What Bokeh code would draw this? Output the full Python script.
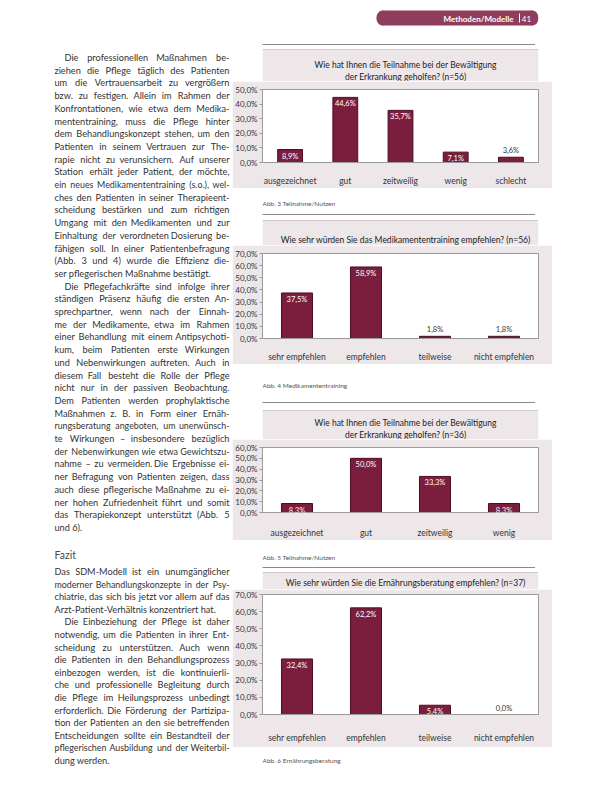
from bokeh.plotting import figure
from bokeh.models import Range1d, ColumnDataSource, LabelSet, CustomJSTickFormatter, FixedTicker, FactorRange
from bokeh.layouts import row, column
from bokeh.embed import file_html
from bokeh.resources import INLINE
from bokeh.core.properties import value

FONT = "Lato"
BOX = "#eee7ea"
BAR = "#7b1d3d"
BAR_EDGE = "#4d0e22"
TXT = "#333333"

# ---------------- data ----------------
header_section = "Methoden/Modelle"
header_page = "41"

c1_title = ["Wie hat Ihnen die Teilnahme bei der Bewältigung", "der Erkrankung geholfen? (n=56)"]
c1_cats = ["ausgezeichnet", "gut", "zeitweilig", "wenig", "schlecht"]
c1_vals = [8.9, 44.6, 35.7, 7.1, 3.6]
c1_ticks = [0, 10, 20, 30, 40, 50]
c1_caption = "Abb. 3 Teilnahme/Nutzen"

c2_title = ["Wie sehr würden Sie das Medikamententraining empfehlen? (n=56)"]
c2_cats = ["sehr empfehlen", "empfehlen", "teilweise", "nicht empfehlen"]
c2_vals = [37.5, 58.9, 1.8, 1.8]
c2_ticks = [0, 10, 20, 30, 40, 50, 60, 70]
c2_caption = "Abb. 4 Medikamententraining"

c3_title = ["Wie hat Ihnen die Teilnahme bei der Bewältigung", "der Erkrankung geholfen? (n=36)"]
c3_cats = ["ausgezeichnet", "gut", "zeitweilig", "wenig"]
c3_vals = [8.3, 50.0, 33.3, 8.3]
c3_ticks = [0, 10, 20, 30, 40, 50, 60]
c3_caption = "Abb. 5 Teilnahme/Nutzen"

c4_title = ["Wie sehr würden Sie die Ernährungsberatung empfehlen? (n=37)"]
c4_cats = ["sehr empfehlen", "empfehlen", "teilweise", "nicht empfehlen"]
c4_vals = [32.4, 62.2, 5.4, 0.0]
c4_ticks = [0, 10, 20, 30, 40, 50, 60, 70]
c4_caption = "Abb. 6 Ernährungsberatung"

text_a = [
    "Die professionellen Maßnahmen be-",
    "ziehen die Pflege täglich des Patienten",
    "um die Vertrauensarbeit zu vergrößern",
    "bzw. zu festigen. Allein im Rahmen der",
    "Konfrontationen, wie etwa dem Medika-",
    "mententraining, muss die Pflege hinter",
    "dem Behandlungskonzept stehen, um den",
    "Patienten in seinem Vertrauen zur The-",
    "rapie nicht zu verunsichern. Auf unserer",
    "Station erhält jeder Patient, der möchte,",
    "ein neues Medikamententraining (s.o.), wel-",
    "ches den Patienten in seiner Therapieent-",
    "scheidung bestärken und zum richtigen",
    "Umgang mit den Medikamenten und zur",
    "Einhaltung der verordneten Dosierung be-",
    "fähigen soll. In einer Patientenbefragung",
    "(Abb. 3 und 4) wurde die Effizienz die-",
    "ser pflegerischen Maßnahme bestätigt.",
]
text_b = [
    "Die Pflegefachkräfte sind infolge ihrer",
    "ständigen Präsenz häufig die ersten An-",
    "sprechpartner, wenn nach der Einnah-",
    "me der Medikamente, etwa im Rahmen",
    "einer Behandlung mit einem Antipsychoti-",
    "kum, beim Patienten erste Wirkungen",
    "und Nebenwirkungen auftreten. Auch in",
    "diesem Fall besteht die Rolle der Pflege",
    "nicht nur in der passiven Beobachtung.",
    "Dem Patienten werden prophylaktische",
    "Maßnahmen z. B. in Form einer Ernäh-",
    "rungsberatung angeboten, um unerwünsch-",
    "te Wirkungen – insbesondere bezüglich",
    "der Nebenwirkungen wie etwa Gewichtszu-",
    "nahme – zu vermeiden. Die Ergebnisse ei-",
    "ner Befragung von Patienten zeigen, dass",
    "auch diese pflegerische Maßnahme zu ei-",
    "ner hohen Zufriedenheit führt und somit",
    "das Therapiekonzept unterstützt (Abb. 5",
    "und 6).",
]
heading_c = "Fazit"
text_c = [
    "Das SDM-Modell ist ein unumgänglicher",
    "moderner Behandlungskonzepte in der Psy-",
    "chiatrie, das sich bis jetzt vor allem auf das",
    "Arzt-Patient-Verhältnis konzentriert hat.",
    "Die Einbeziehung der Pflege ist daher",
    "notwendig, um die Patienten in ihrer Ent-",
    "scheidung zu unterstützen. Auch wenn",
    "die Patienten in den Behandlungsprozess",
    "einbezogen werden, ist die kontinuierli-",
    "che und professionelle Begleitung durch",
    "die Pflege im Heilungsprozess unbedingt",
    "erforderlich. Die Förderung der Partizipa-",
    "tion der Patienten an den sie betreffenden",
    "Entscheidungen sollte ein Bestandteil der",
    "pflegerischen Ausbildung und der Weiterbil-",
    "dung werden.",
]

# ---------------- layout helpers ----------------
RW = 320          # right column width (page x 240..560)
X0 = 240


def fmt(v):
    return f"{v:.1f}".replace(".", ",") + "%"


def chart(cats, vals, ticks, h, top, bottom, standoff):
    p = figure(x_range=FactorRange(*cats), y_range=Range1d(0, ticks[-1]),
               width=RW, height=h, output_backend="svg", toolbar_location=None,
               min_border_left=26, min_border_right=RW - 26 - 280,
               min_border_top=top, min_border_bottom=bottom)
    p.border_fill_color = BOX
    p.background_fill_color = "white"
    p.outline_line_color = "#9a9a9a"
    p.xgrid.grid_line_color = None
    p.ygrid.grid_line_color = None
    src = ColumnDataSource(dict(x=cats, top=vals))
    p.vbar(x="x", top="top", width=0.45, source=src,
           fill_color=BAR, line_color=BAR_EDGE, line_width=1)
    ins = [i for i, v in enumerate(vals) if v >= 5]
    out = [i for i, v in enumerate(vals) if v < 5]
    s_in = ColumnDataSource(dict(x=[cats[i] for i in ins], y=[vals[i] for i in ins],
                                 t=[fmt(vals[i]) for i in ins]))
    s_out = ColumnDataSource(dict(x=[cats[i] for i in out], y=[vals[i] for i in out],
                                  t=[fmt(vals[i]) for i in out]))
    p.add_layout(LabelSet(x="x", y="y", text="t", source=s_in, text_align="center",
                          text_baseline="top", y_offset=-2, text_color="white",
                          text_font_size="7.5px", text_font=value(FONT)))
    p.add_layout(LabelSet(x="x", y="y", text="t", source=s_out, text_align="center",
                          text_baseline="bottom", y_offset=2, text_color=TXT,
                          text_font_size="7.5px", text_font=value(FONT)))
    p.yaxis.ticker = FixedTicker(ticks=ticks)
    p.yaxis.formatter = CustomJSTickFormatter(code="return tick.toFixed(1).replace('.', ',') + '%';")
    p.yaxis.major_tick_out = 3
    p.yaxis.major_tick_in = 0
    p.yaxis.minor_tick_line_color = None
    p.yaxis.major_label_standoff = 2
    p.yaxis.axis_line_color = "#9a9a9a"
    p.yaxis.major_tick_line_color = "#9a9a9a"
    p.yaxis.major_label_text_font_size = "8px"
    p.yaxis.major_label_text_font = FONT
    p.yaxis.major_label_text_color = TXT
    p.xaxis.major_tick_line_color = None
    p.xaxis.axis_line_color = "#9a9a9a"
    p.xaxis.major_label_standoff = standoff
    p.xaxis.major_label_text_font_size = "8.5px"
    p.xaxis.major_label_text_font = FONT
    p.xaxis.major_label_text_color = TXT
    return p


def sep(y0, y1, box_top=None, line_y=None, caption=None, cap_y=None,
        titles=(), title_ys=(), header=False):
    p = figure(x_range=Range1d(X0, X0 + RW), y_range=Range1d(y1, y0),
               width=RW, height=y1 - y0, output_backend="svg", toolbar_location=None,
               x_axis_type=None, y_axis_type=None, min_border=0)
    p.outline_line_color = None
    p.background_fill_color = "white"
    p.border_fill_color = "white"
    if header:
        p.quad(left=[379], right=[553], top=[18], bottom=[33], fill_color="#8f3d5c", line_color=None)
        p.ellipse(x=[379, 553], y=[25.5, 25.5], width=14, height=15, fill_color="#8f3d5c", line_color=None)
        p.text(x=[531], y=[26], text=[header_section], text_align="right", text_baseline="middle",
               text_color="white", text_font_size="8px", text_font_style="bold", text_font=value(FONT))
        p.segment(x0=[538], x1=[538], y0=[21], y1=[30], line_color="white", line_width=1)
        p.text(x=[546], y=[26], text=[header_page], text_align="center", text_baseline="middle",
               text_color="white", text_font_size="8px", text_font=value(FONT))
    if caption is not None:
        p.text(x=[X0], y=[cap_y], text=[caption], text_baseline="middle", text_color="#555555",
               text_font_size="6.5px", text_font=value(FONT))
    if line_y is not None:
        p.segment(x0=[X0 - 2], x1=[556], y0=[line_y], y1=[line_y], line_color="#8a8a8a", line_width=1)
    if box_top is not None:
        p.quad(left=[X0], right=[X0 + RW], top=[box_top], bottom=[y1], fill_color=BOX, line_color=None)
        p.segment(x0=[X0], x1=[X0 + RW], y0=[box_top], y1=[box_top], line_color="#d2c9cc", line_width=1)
    if titles:
        p.text(x=[406] * len(titles), y=list(title_ys), text=list(titles), text_align="center",
               text_baseline="middle", text_color="#222222", text_font_size="8.5px",
               text_font=value(FONT))
    return p


# ---------------- justified text (approximate Lato advance widths, em) ----------------
W = {}
for ch in "il": W[ch] = 0.23
for ch in "jI.,:;!'": W[ch] = 0.22
for ch in "f": W[ch] = 0.31
for ch in "t": W[ch] = 0.33
for ch in "r-()/": W[ch] = 0.33
for ch in "s": W[ch] = 0.40
for ch in "zc": W[ch] = 0.43
for ch in "kvxy": W[ch] = 0.47
for ch in "aeä": W[ch] = 0.49
for ch in "nhuüobdpqgößâ": W[ch] = 0.54
for ch in "m": W[ch] = 0.80
for ch in "w": W[ch] = 0.73
for ch in "–": W[ch] = 0.50
for ch in "0123456789": W[ch] = 0.58
for ch in "ABCDEFGHJKLNOPQRSTUVXYZÄÖÜ": W[ch] = 0.64
for ch in "MW": W[ch] = 0.85
SPACE = 0.20
CAL = 1.03
SAFE = 1.06


def wlen(word, fs):
    return sum(W.get(ch, 0.52) for ch in word) * fs * CAL


FS = 9.2
LEFT, RIGHT, IND = 62, 237, 10


def layout_lines(lines, y_start, step, indents, lasts):
    xs, ys, ts, aligns, sizes = [], [], [], [], []
    for i, line in enumerate(lines):
        y = y_start + step * i
        left = LEFT + (IND if i in indents else 0)
        words = line.split(" ")
        avail = RIGHT - left
        fs = FS
        nat = (sum(wlen(w, fs) for w in words) + SPACE * fs * (len(words) - 1)) * SAFE
        if nat > avail:
            fs = FS * avail / nat
        if i in lasts or len(words) == 1:
            xs.append(left); ys.append(y); ts.append(line); aligns.append("left"); sizes.append(f"{fs:.2f}px")
            continue
        widths = [wlen(w, fs) for w in words]
        gap = (avail - sum(widths)) / (len(words) - 1)
        n = len(words)
        half = (n + 1) // 2
        x = left
        for k in range(half):
            xs.append(x); aligns.append("left"); ys.append(y); ts.append(words[k]); sizes.append(f"{fs:.2f}px")
            x += widths[k] + gap
        x = RIGHT
        for k in range(n - 1, half - 1, -1):
            xs.append(x); aligns.append("right"); ys.append(y); ts.append(words[k]); sizes.append(f"{fs:.2f}px")
            x -= widths[k] + gap
    return xs, ys, ts, aligns, sizes


tp = figure(x_range=Range1d(8, 240), y_range=Range1d(784, 8), width=232, height=776,
            output_backend="svg", toolbar_location=None, x_axis_type=None, y_axis_type=None,
            min_border=0)
tp.outline_line_color = None
tp.border_fill_color = "white"

ab = text_a + text_b
xa, ya, ta, aa, sa = layout_lines(ab, 65, 12.7, {0, len(text_a)}, {len(text_a) - 1, len(ab) - 1})
xc, yc, tc, ac, sc = layout_lines(text_c, 579, 12.6, {4}, {3, len(text_c) - 1})
tsrc = ColumnDataSource(dict(x=xa + xc, y=ya + yc, t=ta + tc, a=aa + ac, s=sa + sc))
tp.text(x="x", y="y", text="t", source=tsrc, text_baseline="middle", text_align="a",
        text_font_size="s", text_color=TXT, text_font=value(FONT))
tp.text(x=[62], y=[562], text=[heading_c], text_baseline="middle", text_color="#4a4a4a",
        text_font_size="10.5px", text_font=value(FONT))

# ---------------- right column ----------------
sA = sep(8, 89, box_top=57, line_y=52, titles=c1_title, title_ys=(72, 84), header=True)
p1 = chart(c1_cats, c1_vals, c1_ticks, 107, 8, 24, 7)
sB = sep(196, 253, box_top=228, line_y=222, caption=c1_caption, cap_y=211,
         titles=c2_title, title_ys=(247,))
p2 = chart(c2_cats, c2_vals, c2_ticks, 119, 8, 21, 7)
sC = sep(372, 447, box_top=418, line_y=410, caption=c2_caption, cap_y=393,
         titles=c3_title, title_ys=(430, 442))
p3 = chart(c3_cats, c3_vals, c3_ticks, 101, 8, 26, 9)
sD = sep(548, 597, box_top=580, line_y=575, caption=c3_caption, cap_y=565,
         titles=c4_title, title_ys=(590,))
p4 = chart(c4_cats, c4_vals, c4_ticks, 158, 5, 33, 12)
sE = sep(755, 784, caption=c4_caption, cap_y=768)

layout = row(tp, column(sA, p1, sB, p2, sC, p3, sD, p4, sE, spacing=0), spacing=0)

open("out.html", "w").write(file_html(layout, INLINE))
